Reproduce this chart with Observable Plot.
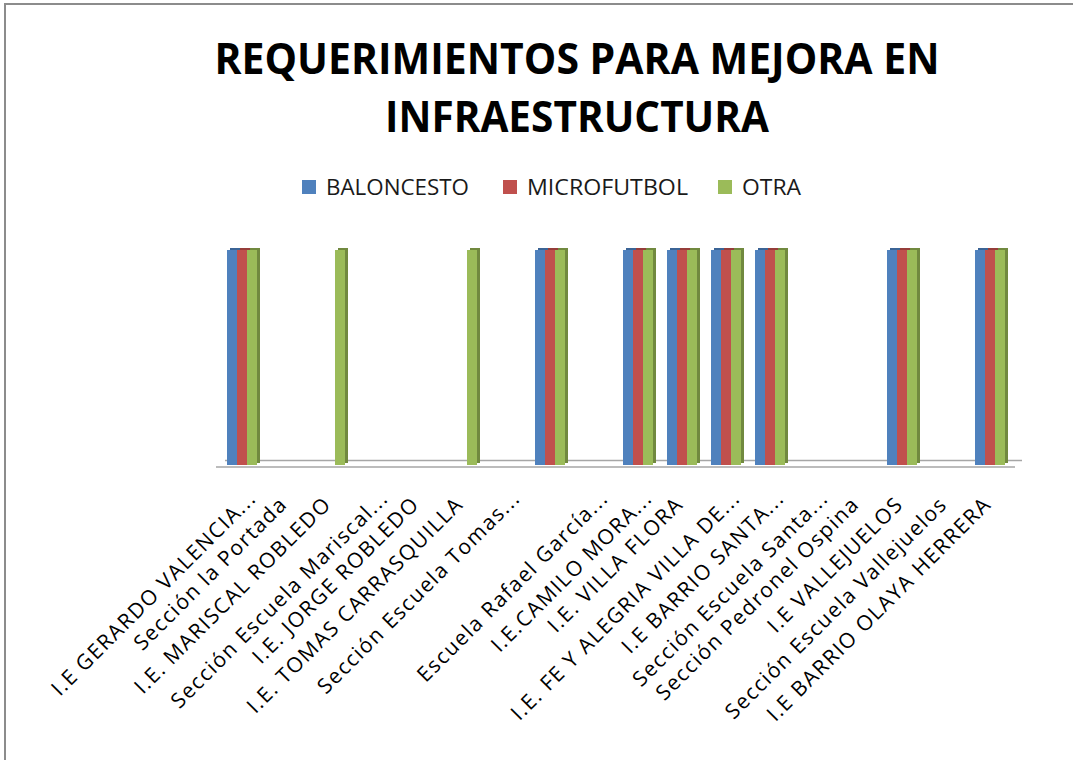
<!DOCTYPE html>
<html><head><meta charset="utf-8">
<script src="https://cdn.jsdelivr.net/npm/d3@7"></script>
<script src="https://cdn.jsdelivr.net/npm/@observablehq/plot@0.6"></script>
<style>
body{margin:0;background:#fff;width:1073px;height:760px;overflow:hidden;position:relative;font-family:"Open Sans",sans-serif;}
#border{position:absolute;left:4px;top:3px;width:1100px;height:800px;border-top:2px solid #8c8c8c;border-left:2px solid #8c8c8c;box-sizing:border-box;}
#head{position:absolute;left:0;top:0;}
#chart{position:absolute;left:0;top:205px;}
</style></head><body>
<div id="border"></div>
<svg id="head" width="1073" height="205"></svg>
<div id="chart"></div>
<script>
const titleLines = ["REQUERIMIENTOS PARA MEJORA EN", "INFRAESTRUCTURA"];
const categories = [
  "I.E GERARDO VALENCIA...",
  "Sección la Portada",
  "I.E. MARISCAL ROBLEDO",
  "Sección Escuela Mariscal...",
  "I.E. JORGE ROBLEDO",
  "I.E. TOMAS CARRASQUILLA",
  "Sección Escuela Tomas...",
  "",
  "Escuela Rafael García...",
  "I.E.CAMILO MORA...",
  "I.E. VILLA FLORA",
  "I.E. FE Y ALEGRIA VILLA DE...",
  "I.E BARRIO SANTA...",
  "Sección Escuela Santa...",
  "Sección Pedronel Ospina",
  "I.E VALLEJUELOS",
  "Sección Escuela Vallejuelos",
  "I.E BARRIO OLAYA HERRERA"
];
const series = ["BALONCESTO", "MICROFUTBOL", "OTRA"];
const baloncesto  = [1,0,0,0,0,0,0,1,0,1,1,1,1,0,0,1,0,1];
const microfutbol = [1,0,0,0,0,0,0,1,0,1,1,1,1,0,0,1,0,1];
const otra        = [1,0,1,0,0,1,0,1,0,1,1,1,1,0,0,1,0,1];
const colors     = ["#4F81BD", "#C0504D", "#9BBB59"];
const sideColors = ["#3B6496", "#963D3A", "#71893F"];

// header: title + legend
const head = d3.select("#head");
const titleY = [74, 132], titleW = [725, 384];
titleLines.forEach((t, i) => {
  head.append("text").attr("x", 577).attr("y", titleY[i]).attr("text-anchor", "middle")
    .attr("font-family", "Open Sans").attr("font-weight", 700).attr("font-size", 43.5)
    .attr("textLength", titleW[i]).attr("lengthAdjust", "spacingAndGlyphs")
    .attr("fill", "#000").text(t);
});
const legX = [302, 503, 718], legTW = [143, 161, 59];
series.forEach((s, i) => {
  head.append("rect").attr("x", legX[i]).attr("y", 180).attr("width", 14).attr("height", 14).attr("fill", colors[i]);
  head.append("text").attr("x", legX[i] + 24).attr("y", 194.5)
    .attr("font-family", "Open Sans").attr("font-size", 21)
    .attr("textLength", legTW[i]).attr("lengthAdjust", "spacingAndGlyphs")
    .attr("fill", "#1a1a1a").text(s);
});

// rows
const arrays = [baloncesto, microfutbol, otra];
const rows = [];
categories.forEach((c, i) => arrays.forEach((arr, j) => {
  if (arr[i] > 0) rows.push({cat: c, series: series[j], value: arr[i]});
}));
const offsets = [-11, -1, 9];
const truncated = c => c.endsWith("...");

const plot = Plot.plot({
  width: 1073, height: 555,
  marginTop: 45, marginBottom: 295, marginLeft: 221, marginRight: 60,
  style: {fontFamily: "Open Sans", background: "transparent"},
  x: {domain: categories, axis: null, padding: 0},
  y: {domain: [0, 1], axis: null},
  color: {domain: series, range: colors},
  marks: [
    Plot.ruleY([0], {dy: -5, insetLeft: 4, insetRight: -9, stroke: "#a6a6a6", strokeWidth: 1.5}),
    Plot.ruleY([0], {dy: 1.5, insetLeft: -5, insetRight: -2, stroke: "#a6a6a6", strokeWidth: 1.5}),
    ...series.map((s, j) => Plot.barY(rows.filter(d => d.series === s), {
      x: "cat", y: "value", fill: sideColors[j], insetLeft: 17, insetRight: 17, dx: offsets[j] + 3, dy: -2
    })),
    ...series.map((s, j) => Plot.barY(rows.filter(d => d.series === s), {
      x: "cat", y: "value", fill: "series", insetLeft: 17, insetRight: 17, dx: offsets[j]
    })),
    Plot.text(categories.filter(c => c && !truncated(c)), {
      x: d => d, text: d => d, frameAnchor: "bottom", rotate: -45, textAnchor: "end",
      dy: 40, dx: 1, fontSize: 21, fill: "#000"
    }),
    Plot.text(categories.filter(c => c && truncated(c)), {
      x: d => d, text: d => d, frameAnchor: "bottom", rotate: -45, textAnchor: "end",
      dy: 34, dx: 14, fontSize: 21, fill: "#000"
    })
  ]
});
d3.select(plot).selectAll("text").attr("letter-spacing", "1.5");
document.getElementById("chart").appendChild(plot);
</script>
</body></html>
